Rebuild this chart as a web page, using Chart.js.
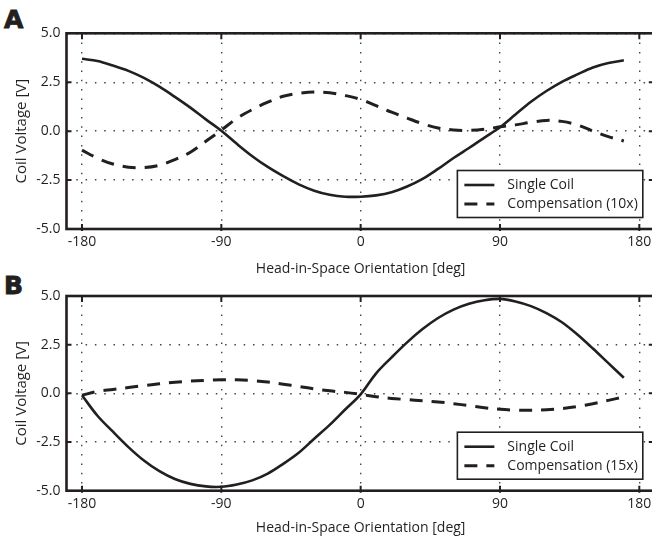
<!DOCTYPE html>
<html><head><meta charset="utf-8">
<script src="https://cdn.jsdelivr.net/npm/chart.js@4/dist/chart.umd.min.js"></script>
<style>
html,body{margin:0;padding:0;background:#fff;width:652px;height:538px;overflow:hidden;position:relative;}
canvas{position:absolute;left:0;}
.lbl{position:absolute;left:4px;font-family:"DejaVu Sans";font-weight:bold;font-size:25px;line-height:25px;color:#231f20;-webkit-text-stroke:0.9px #231f20;}
</style></head><body>
<div class="lbl" style="top:7px">A</div>
<div class="lbl" style="top:273px">B</div>
<canvas id="cA" width="660" height="285" style="top:0;width:660px;height:285px"></canvas>
<canvas id="cB" width="660" height="285" style="top:263px;width:660px;height:285px"></canvas>
<script>
// ---- data ----
const angles = [-180,-170,-160,-150,-140,-130,-120,-110,-100,-90,-80,-70,-60,-50,-40,-30,-20,-10,0,10,20,30,40,50,60,70,80,90,100,110,120,130,140,150,160,170];
const singleA = [3.7,3.58,3.35,3.08,2.72,2.27,1.75,1.2,0.6,0.02,-0.65,-1.28,-1.83,-2.3,-2.72,-3.04,-3.25,-3.35,-3.35,-3.28,-3.12,-2.83,-2.44,-1.93,-1.37,-0.86,-0.33,0.2,0.85,1.5,2.05,2.52,2.9,3.25,3.48,3.62];
const compA = [-0.97,-1.38,-1.68,-1.84,-1.86,-1.74,-1.45,-1.08,-0.52,0.05,0.65,1.1,1.48,1.78,1.93,2.0,1.96,1.82,1.62,1.3,0.97,0.67,0.38,0.16,0.06,0.04,0.1,0.22,0.32,0.45,0.55,0.5,0.32,0.0,-0.28,-0.5];
const singleB = [-0.1,-1.15,-1.97,-2.76,-3.45,-4.0,-4.4,-4.65,-4.78,-4.8,-4.68,-4.47,-4.12,-3.62,-3.05,-2.33,-1.62,-0.83,-0.05,1.03,1.85,2.62,3.3,3.87,4.3,4.6,4.78,4.85,4.72,4.48,4.12,3.65,3.02,2.3,1.55,0.8];
const compB = [-0.1,0.1,0.2,0.3,0.4,0.49,0.57,0.63,0.67,0.7,0.7,0.66,0.58,0.47,0.35,0.23,0.13,0.05,-0.05,-0.17,-0.26,-0.32,-0.38,-0.44,-0.53,-0.63,-0.74,-0.82,-0.86,-0.87,-0.84,-0.78,-0.68,-0.53,-0.36,-0.18];
const xTicks = [-180,-90,0,90,180];
const yTicks = [-5,-2.5,0,2.5,5];
const seriesNames = ['Single Coil','Compensation (10x)','Compensation (15x)'];
const xTitle = 'Head-in-Space Orientation [deg]';
const yTitle = 'Coil Voltage [V]';

const INK = '#231f20';
const GRID = '#444';
const FONT = {family:'"Open Sans"', size:14};
const YFONT = {family:'"Open Sans"', size:15};

const framePlugin = {
  id:'frame',
  afterDatasetsDraw(chart){
    const {ctx, chartArea:a, scales} = chart;
    ctx.save();
    ctx.strokeStyle = INK;
    ctx.lineWidth = 2.6;
    ctx.strokeRect(a.left, a.top, a.right-a.left, a.bottom-a.top);
    ctx.lineWidth = 2;
    ctx.beginPath();
    xTicks.forEach(v=>{
      const px = scales.x.getPixelForValue(v);
      ctx.moveTo(px, a.bottom+2); ctx.lineTo(px, a.bottom-5);
      ctx.moveTo(px, a.top); ctx.lineTo(px, a.top+6);
    });
    yTicks.slice(1,-1).forEach(v=>{
      const py = scales.y.getPixelForValue(v);
      ctx.moveTo(a.left, py); ctx.lineTo(a.left+5, py);
      ctx.moveTo(a.right, py); ctx.lineTo(a.right-6, py);
    });
    ctx.stroke();
    ctx.restore();
  }
};

const legendPlugin = {
  id:'boxLegend',
  afterDraw(chart){
    const {ctx, chartArea:a} = chart;
    const ds = chart.data.datasets;
    ctx.save();
    ctx.font = FONT.size+'px '+FONT.family;
    const tw = Math.max(...ds.map(d=>ctx.measureText(d.label).width));
    const w = 50 + tw + 5, h = 47;
    const x0 = a.right - 12 - w, y0 = a.bottom - 11.5 - h;
    ctx.fillStyle = '#fff';
    ctx.fillRect(x0, y0, w, h);
    ctx.strokeStyle = INK; ctx.lineWidth = 1.6;
    ctx.strokeRect(x0, y0, w, h);
    ds.forEach((d,i)=>{
      const yy = y0 + 14.5 + i*19;
      ctx.setLineDash(d.borderDash || []);
      ctx.lineWidth = d.borderWidth;
      ctx.beginPath(); ctx.moveTo(x0+7, yy); ctx.lineTo(x0+37, yy); ctx.stroke();
      ctx.setLineDash([]);
      ctx.fillStyle = INK; ctx.textBaseline = 'middle'; ctx.textAlign = 'left';
      ctx.fillText(d.label, x0+50, yy);
    });
    ctx.restore();
  }
};

function makeChart(id, single, comp, compLabel, g){
  const mk = (arr) => angles.map((a,i)=>({x:a, y:arr[i]}));
  return new Chart(document.getElementById(id), {
    type:'line',
    data:{datasets:[
      {label:seriesNames[0], data:mk(single), borderColor:INK, borderWidth:2.6, pointRadius:0, tension:0.35, fill:false},
      {label:compLabel, data:mk(comp), borderColor:INK, borderWidth:3, borderDash:[13,9], pointRadius:0, tension:0.35, fill:false}
    ]},
    options:{
      responsive:false, animation:false, devicePixelRatio:1,
      layout:{padding:{top:g.top, left:0, right:5.2, bottom:0}},
      plugins:{legend:{display:false}, tooltip:{enabled:false}},
      scales:{
        x:{type:'linear', min:-190, max:190,
          afterBuildTicks:s=>{s.ticks = xTicks.map(v=>({value:v}));},
          afterFit:s=>{s.height = g.xh;},
          ticks:{font:FONT, color:INK, padding:g.xpad, autoSkip:false, maxRotation:0, callback:v=>String(v)},
          grid:{color:GRID, lineWidth:1.4, drawTicks:false},
          border:{display:false, dash:[1.5,7.8]},
          title:{display:true, text:xTitle, font:FONT, color:INK, padding:{top:0,bottom:g.tpad}}
        },
        y:{type:'linear', min:-5, max:5,
          afterBuildTicks:s=>{s.ticks = yTicks.map(v=>({value:v}));},
          afterFit:s=>{s.width = 66.5;},
          ticks:{font:FONT, color:INK, padding:6, autoSkip:false, callback:v=>Number(v).toFixed(1)},
          grid:{color:GRID, lineWidth:1.4, drawTicks:false},
          border:{display:false, dash:[1.5,7.8]},
          title:{display:true, text:yTitle, font:YFONT, color:INK, padding:{top:12.5,bottom:0}}
        }
      }
    },
    plugins:[framePlugin, legendPlugin]
  });
}

makeChart('cA', singleA, compA, seriesNames[1], {top:33.3, xh:56, xpad:5, tpad:8});
makeChart('cB', singleB, compB, seriesNames[2], {top:33, xh:57.3, xpad:5, tpad:12});
</script>
</body></html>
